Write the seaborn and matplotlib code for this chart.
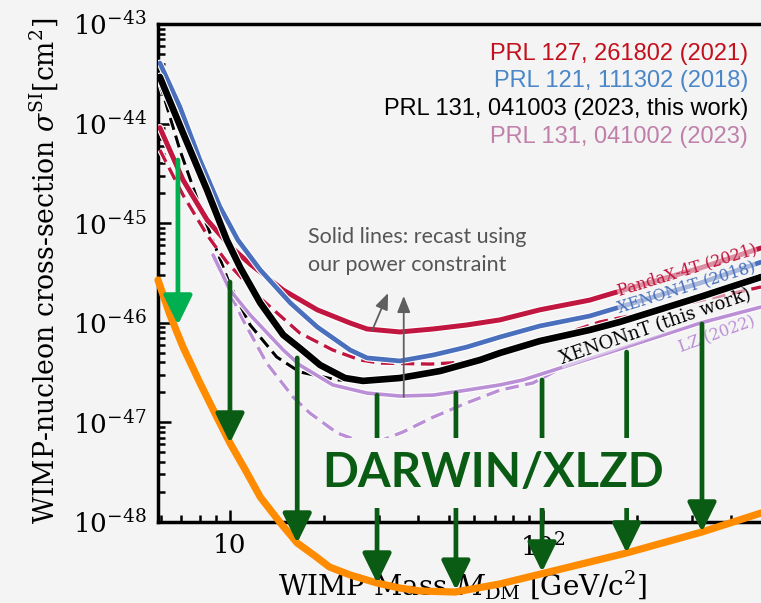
import numpy as np
import pandas as pd
import matplotlib
matplotlib.use("Agg")
import matplotlib.pyplot as plt
import matplotlib.patheffects as pe
from matplotlib.ticker import LogLocator, NullFormatter
import seaborn as sns

# ---------------- data ----------------
xenon1t_mass = [5.97, 6.92, 8.02, 9.29, 10.6, 12.5, 15.6, 19.0, 24.2, 27.4, 34.9, 44.6, 57.1, 72.9, 97.7, 141, 176, 318, 497]
xenon1t_sigma = [4.06e-44, 1.47e-44, 4.31e-45, 1.46e-45, 6.78e-46, 3.39e-46, 1.58e-46, 9.08e-47, 5.33e-47, 4.44e-47,
                 4.14e-47, 4.75e-47, 5.71e-47, 7.20e-47, 9.29e-47, 1.17e-46, 1.44e-46, 2.51e-46, 4.07e-46]

xenonnt_mass = [5.97, 7.08, 8.45, 9.77, 10.8, 12.5, 14.8, 16.7, 19.4, 23.3, 26.6, 34.9, 46.9, 63.0, 72.9, 97.7, 141, 176, 318, 497]
xenonnt_sigma = [2.94e-44, 8.05e-45, 2.15e-45, 6.78e-46, 3.55e-46, 1.58e-46, 7.55e-47, 5.58e-47, 3.77e-47, 2.79e-47,
                 2.61e-47, 2.79e-47, 3.28e-47, 4.24e-47, 4.98e-47, 6.56e-47, 8.47e-47, 1.02e-46, 1.82e-46, 2.88e-46]

pandax_mass = [5.97, 7.08, 8.45, 10.0, 11.6, 14.8, 19.0, 24.2, 27.4, 34.9, 44.6, 57.1, 72.9, 97.7, 141, 176, 318, 497]
pandax_sigma = [9.12e-45, 2.72e-45, 1.08e-45, 5.90e-46, 3.89e-46, 2.13e-46, 1.35e-46, 9.95e-47, 8.67e-47, 8.09e-47,
                8.67e-47, 9.51e-47, 1.07e-46, 1.35e-46, 1.69e-46, 2.08e-46, 3.55e-46, 5.64e-46]

pandax_orig_mass = [5.97, 7.08, 8.45, 9.77, 12.5, 16.7, 21.3, 26.0, 30.1, 43.6, 57.1, 72.9, 90.8, 152, 249, 497]
pandax_orig_sigma = [5.43e-45, 1.92e-45, 7.62e-46, 4.07e-46, 1.77e-46, 7.91e-47, 5.33e-47, 4.24e-47, 3.94e-47, 3.85e-47,
                     4.04e-47, 4.75e-47, 5.98e-47, 1.02e-46, 1.41e-46, 2.29e-46]

xenonnt_orig_mass = [5.97, 6.92, 8.02, 10.0, 11.6, 14.1, 16.7, 22.0, 26.6]
xenonnt_orig_sigma = [2.56e-44, 5.43e-45, 1.46e-45, 2.40e-46, 9.51e-47, 4.54e-47, 3.21e-47, 2.67e-47, 2.61e-47]

lz_mass = [8.83, 10.0, 11.6, 14.8, 16.7, 21.3, 27.4, 34.9, 44.6, 57.1, 72.9, 86.3, 176, 318, 497]
lz_sigma = [4.80e-46, 2.13e-46, 1.20e-46, 5.33e-47, 3.77e-47, 2.38e-47, 1.97e-47, 1.84e-47, 1.88e-47, 2.11e-47,
            2.38e-47, 2.67e-47, 5.46e-47, 9.95e-47, 1.44e-46]

lz_orig_mass = [8.83, 11.0, 13.1, 15.9, 18.0, 22.0, 28.0, 35.7, 44.6, 57.1, 72.9, 92.9, 113]
lz_orig_sigma = [4.48e-46, 1.07e-46, 3.94e-47, 1.80e-47, 1.24e-47, 7.83e-48, 5.93e-48, 8.02e-48, 1.13e-47, 1.57e-47,
                 2.11e-47, 2.49e-47, 3.44e-47]

darwin_mass = [5.89, 6.43, 7.08, 8.02, 9.08, 10.0, 11.2, 12.5, 14.5, 16.4, 18.7, 20.8, 24.2, 29.5, 34.9, 40.5,
               52.4, 72.9, 98.6, 185, 322, 497]
darwin_sigma = [2.69e-46, 1.20e-46, 5.71e-47, 2.49e-47, 1.13e-47, 6.21e-48, 3.33e-48, 1.78e-48, 9.77e-49, 6.15e-49,
                4.56e-49, 3.53e-49, 2.94e-49, 2.44e-49, 2.17e-49, 2.03e-49, 1.98e-49, 2.39e-49, 3.01e-49, 4.89e-49,
                7.94e-49, 1.23e-48]

arrow_mass = [10.0, 16.4, 29.5, 52.7, 99.3, 185, 322]
arrow_from = [2.57e-46, 4.44e-47, 1.88e-47, 1.97e-47, 2.67e-47, 5.09e-47, 9.73e-47]
arrow_to = [6.21e-48, 6.15e-49, 2.44e-49, 2.07e-49, 3.15e-49, 4.89e-49, 7.94e-49]
light_arrow_mass = 6.82
light_arrow_from = 4.31e-45
light_arrow_to = 9.51e-47

legend_texts = ["PRL 127, 261802 (2021)", "PRL 121, 111302 (2018)",
                "PRL 131, 041003 (2023, this work)", "PRL 131, 041002 (2023)"]
y_ticks = [1e-48, 1e-47, 1e-46, 1e-45, 1e-44, 1e-43]
x_ticks = [10, 100]
x_tick_labels = ["10", "$10^{2}$"]

# ---------------- style ----------------
sns.set_theme(style="ticks")
BG = "#f4f4f4"
plt.rcParams["font.family"] = ["DejaVu Serif"]
plt.rcParams["mathtext.fontset"] = "dejavuserif"
plt.rcParams["text.color"] = "black"
plt.rcParams["axes.labelcolor"] = "black"
plt.rcParams["xtick.color"] = "black"
plt.rcParams["ytick.color"] = "black"

C_PANDA = "#c0163f"
C_X1T = "#4a70bd"
C_XNT = "#000000"
C_LZ = "#bb8fd6"
C_DARWIN = "#ff8c00"
C_DKG = "#0a5c14"
C_LTG = "#00b050"

W, H = 761, 603
fig = plt.figure(figsize=(W / 100, H / 100), dpi=100, facecolor=BG)
ax = fig.add_axes([158 / W, 1 - 522 / H, 1 - 158 / W, (522 - 24) / H])
ax.set_facecolor(BG)
ax.set_xscale("log")
ax.set_yscale("log")


def halo(lw):
    return [pe.Stroke(linewidth=lw + 1.6, foreground="white"), pe.Normal()]


def curve(m, s, color, lw, ls="-", z=3, clip=True, effects=True):
    df = pd.DataFrame({"mass": m, "sigma": s})
    sns.lineplot(data=df, x="mass", y="sigma", ax=ax, color=color, lw=lw, linestyle=ls,
                 sort=False, estimator=None, zorder=z, clip_on=clip,
                 path_effects=halo(lw) if effects else None)


dash = (0, (4, 2))
curve(lz_orig_mass, lz_orig_sigma, C_LZ, 2.4, dash, z=3)
curve(xenonnt_orig_mass, xenonnt_orig_sigma, C_XNT, 2.2, dash, z=3.1)
curve(pandax_orig_mass, pandax_orig_sigma, C_PANDA, 2.4, dash, z=3.1)
curve(lz_mass, lz_sigma, C_LZ, 2.6, z=3.2)
curve(pandax_mass, pandax_sigma, C_PANDA, 3.6, z=3.3)
curve(xenon1t_mass, xenon1t_sigma, C_X1T, 3.4, z=3.4)
curve(xenonnt_mass, xenonnt_sigma, C_XNT, 4.8, z=3.5)
curve(darwin_mass, darwin_sigma, C_DARWIN, 5.2, z=4.5, clip=False, effects=False)

ax.set_xlim(5.89, 497)
ax.set_ylim(1e-48, 1e-43)

# ---------------- axes cosmetics ----------------
for side in ["left", "bottom", "top"]:
    ax.spines[side].set_linewidth(2.5)
    ax.spines[side].set_color("black")
ax.spines["right"].set_visible(False)
ax.set_yticks(y_ticks)
ax.yaxis.set_minor_locator(LogLocator(base=10, subs=np.arange(2, 10), numticks=20))
ax.yaxis.set_minor_formatter(NullFormatter())
ax.set_xticks(x_ticks)
ax.set_xticklabels(x_tick_labels)
ax.xaxis.set_minor_locator(LogLocator(base=10, subs=np.arange(2, 10), numticks=20))
ax.xaxis.set_minor_formatter(NullFormatter())
ax.tick_params(which="both", direction="in", top=False, right=False, width=1.8)
ax.tick_params(which="major", length=9, labelsize=19, pad=8)
ax.tick_params(which="minor", length=5)

ax.set_xlabel(r"WIMP Mass $M_{\rm DM}$ [GeV/c$^{2}$]", fontsize=20)
ax.xaxis.label.set_va("baseline")
ax.xaxis.set_label_coords((463 - 158) / 603, (522 - 595) / 498)
ax.set_ylabel(r"WIMP-nucleon cross-section $\sigma^{\rm SI}$[cm$^{2}$]", fontsize=19.2)
ax.yaxis.label.set_va("center")
ax.yaxis.set_label_coords((44 - 158) / 603, (522 - 271) / 498)

# ---------------- arrows ----------------
for m, s0, s1 in zip(arrow_mass, arrow_from, arrow_to):
    ax.annotate("", xy=(m, s1), xytext=(m, s0), annotation_clip=False, zorder=5,
                arrowprops=dict(arrowstyle="-|>,head_length=0.45,head_width=0.22", mutation_scale=40,
                                lw=3.4, color=C_DKG, shrinkA=0, shrinkB=0, clip_on=False))
ax.annotate("", xy=(light_arrow_mass, light_arrow_to), xytext=(light_arrow_mass, light_arrow_from),
            annotation_clip=False, zorder=5,
            arrowprops=dict(arrowstyle="-|>,head_length=0.45,head_width=0.22", mutation_scale=40,
                            lw=3.4, color=C_LTG, shrinkA=0, shrinkB=0))

# DARWIN label with background box hiding arrows
ax.text(69.2, 3.10e-48, "DARWIN/XLZD", fontsize=34, fontweight="bold", family="Lato",
        color=C_DKG, ha="center", va="center", zorder=6,
        bbox=dict(boxstyle="square,pad=0.27", facecolor=BG, edgecolor="none"))

# curve labels
lab_box = dict(facecolor=BG, alpha=0.55, edgecolor="none", pad=0.3)
ax.text(288, 3.39e-46, "PandaX-4T (2021)", fontsize=11.5, color=C_PANDA, rotation=17,
        ha="center", va="center", rotation_mode="anchor", zorder=4, bbox=lab_box)
ax.text(288, 2.29e-46, "XENON1T (2018)", fontsize=11.5, color=C_X1T, rotation=17,
        ha="center", va="center", rotation_mode="anchor", zorder=4, bbox=lab_box)
ax.text(228, 9.08e-47, "XENONnT (this work)", fontsize=13, color="black", rotation=19,
        ha="center", va="center", rotation_mode="anchor", zorder=4, bbox=lab_box)
ax.text(360, 7.53e-47, "LZ (2022)", fontsize=11.5, color=C_LZ, rotation=20,
        ha="center", va="center", rotation_mode="anchor", zorder=4)

# explanatory note and pointer arrows
ax.text((308 - 158) / 603, (522 - 251) / 498, "Solid lines: recast using\nour power constraint",
        transform=ax.transAxes, family="Lato", fontsize=15.5, color="#555555",
        ha="left", va="center", linespacing=1.55, zorder=6)
ax.annotate("", xy=(32.0, 1.99e-46), xytext=(28.5, 8.47e-47), zorder=6,
            arrowprops=dict(arrowstyle="-|>,head_length=0.45,head_width=0.18", mutation_scale=22,
                            lw=1.3, color="#5f5f5f", shrinkA=0, shrinkB=0))
ax.annotate("", xy=(35.9, 1.86e-46), xytext=(35.9, 1.80e-47), zorder=6,
            arrowprops=dict(arrowstyle="-|>,head_length=0.45,head_width=0.18", mutation_scale=22,
                            lw=1.3, color="#5f5f5f", shrinkA=0, shrinkB=0))

# reference legend (top right)
leg_colors = ["#c4101c", "#4a86c8", "black", "#c080aa"]
leg_y = [54, 81, 109, 137]
for t, c, yy in zip(legend_texts, leg_colors, leg_y):
    fig.text(748 / W, 1 - yy / H, t, color=c, fontsize=17, family="Liberation Sans",
             ha="right", va="center")

fig.savefig("out.png", dpi=100, facecolor=BG)
